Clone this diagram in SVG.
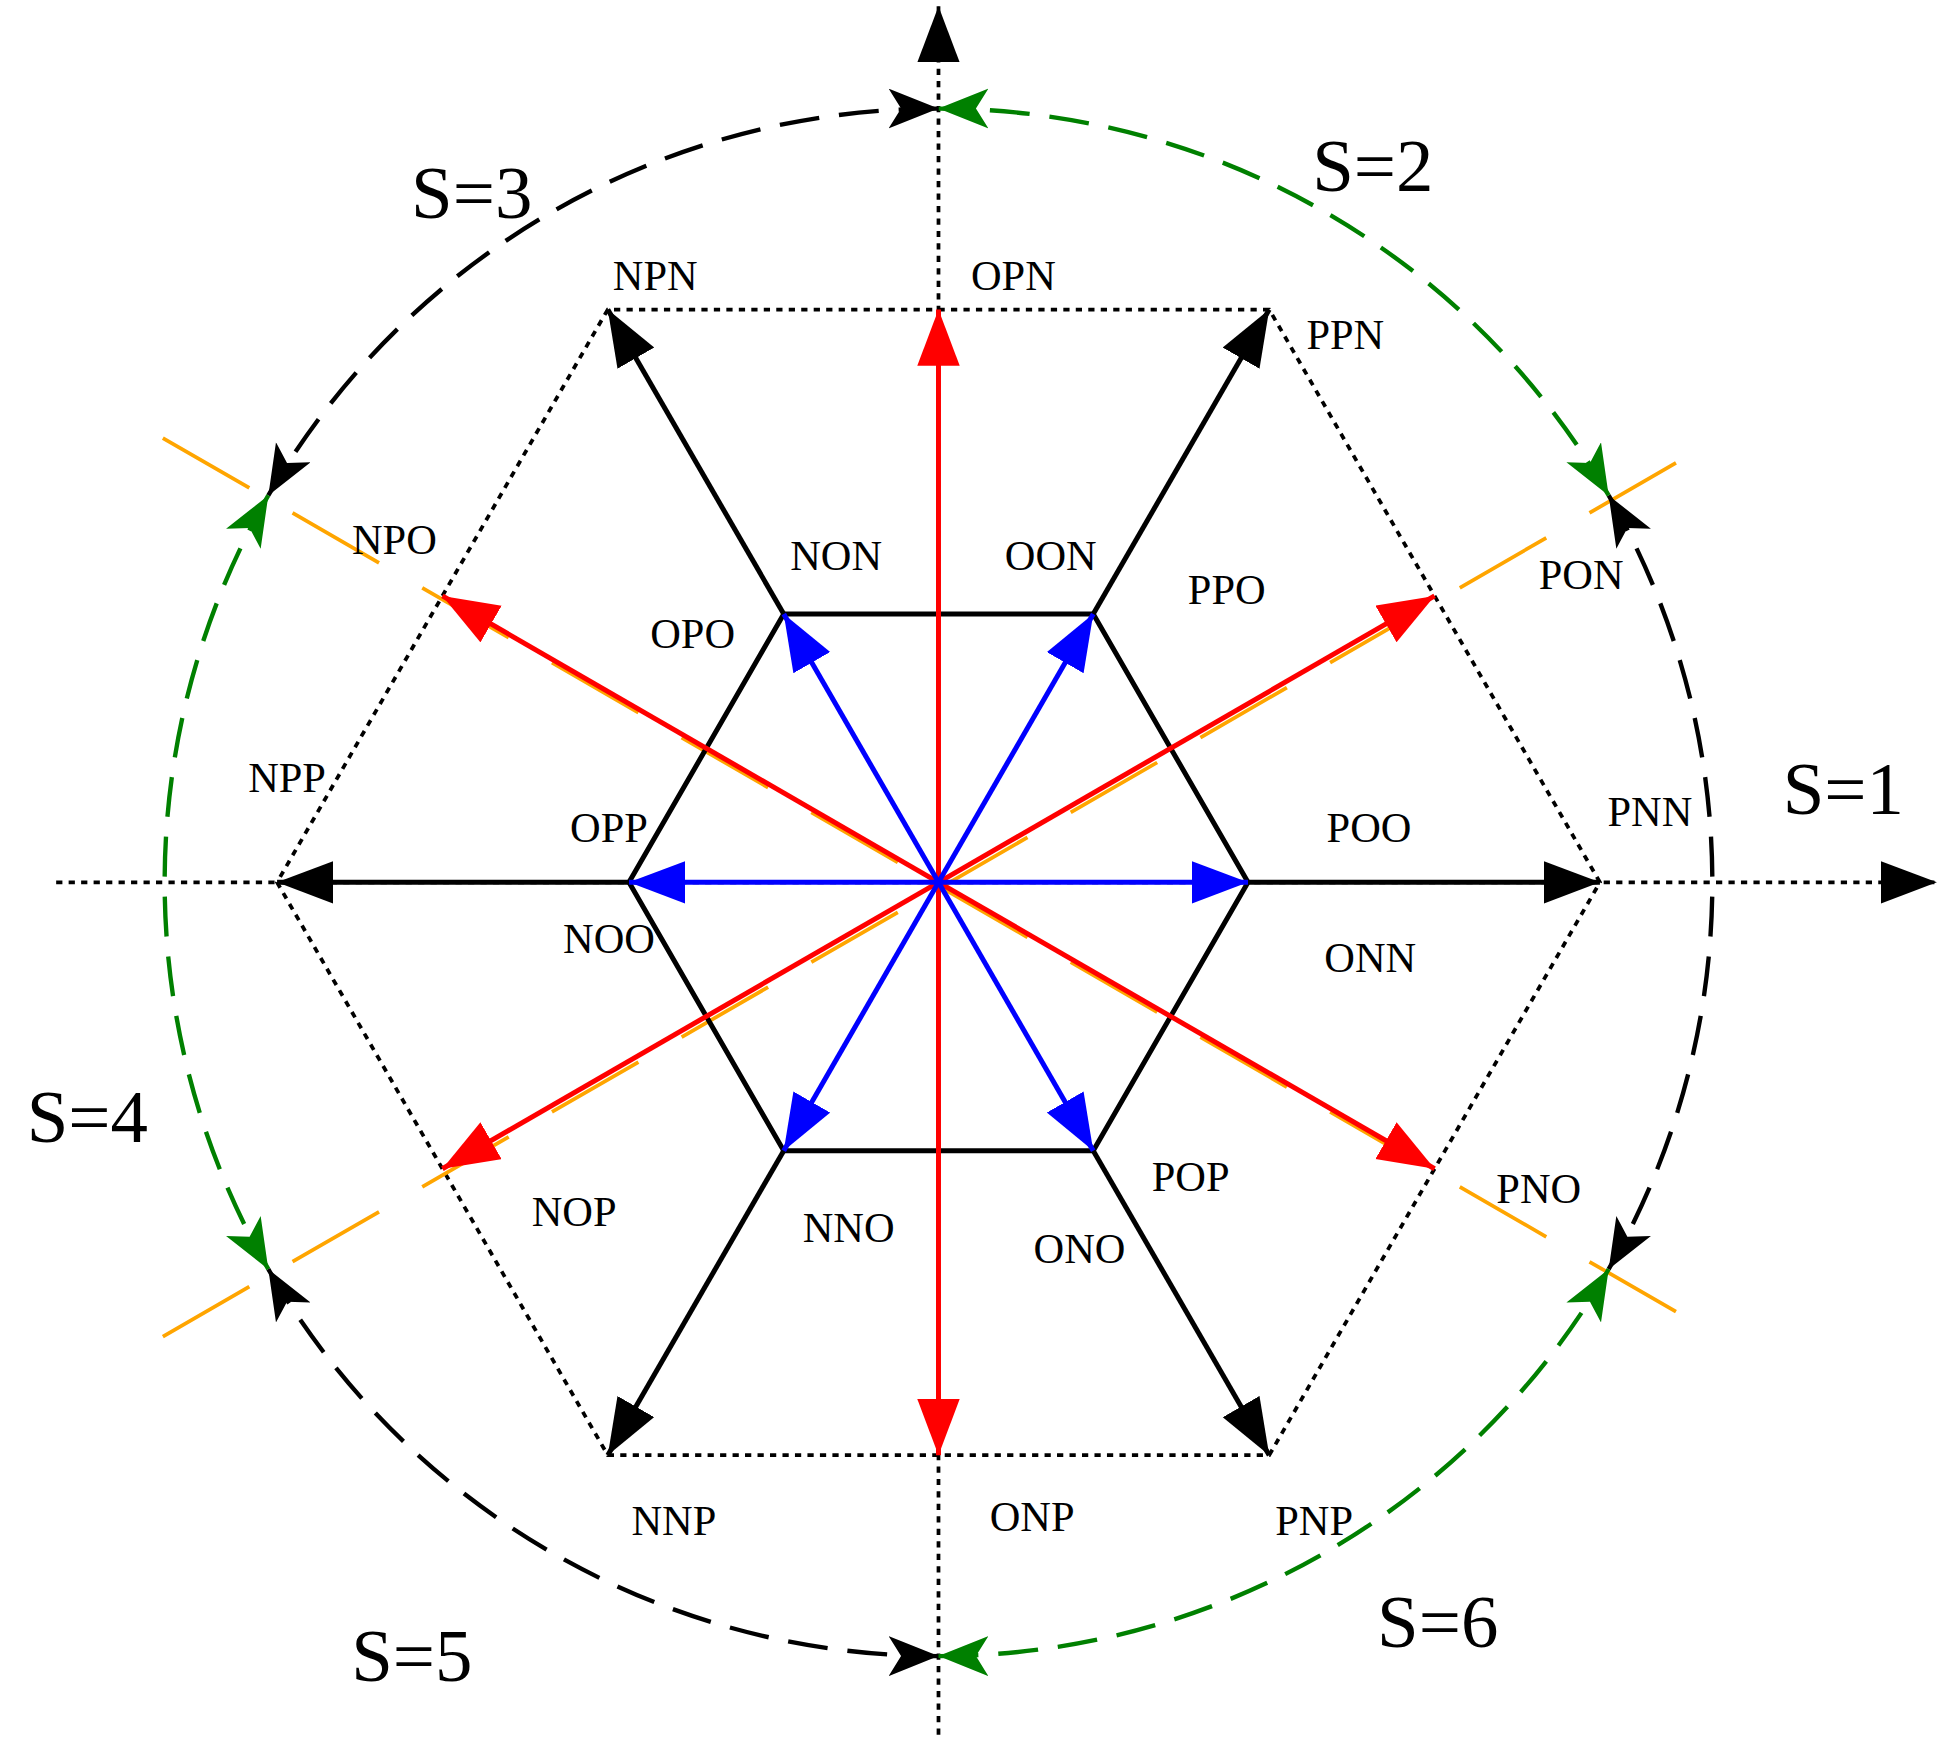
<svg xmlns="http://www.w3.org/2000/svg" width="1947" height="1755" viewBox="0 0 1947 1755">
<defs>
<style>
text{font-family:"Liberation Serif","Times New Roman",serif;fill:#000;text-anchor:middle}
.s{font-size:34px}.b{font-size:60px}
.dot{fill:none;stroke:#000;stroke-width:3;stroke-dasharray:5 5}
.blk{stroke:#000;stroke-width:4;fill:none}
.red{stroke:#f00;stroke-width:4}
.blu{stroke:#00f;stroke-width:4}
.org{stroke:#ffa500;stroke-width:3;stroke-dasharray:80 40;fill:none}
.arcK{fill:none;stroke:#000;stroke-width:3.5;stroke-dasharray:32 16}
.arcG{fill:none;stroke:#008000;stroke-width:3.5;stroke-dasharray:32 16}
</style>
<marker id="mK" markerUnits="userSpaceOnUse" markerWidth="50" markerHeight="40" refX="45" refY="17" orient="auto-start-reverse"><path d="M0,0L45,17L0,34z" fill="#000"/></marker>
<marker id="mR" markerUnits="userSpaceOnUse" markerWidth="50" markerHeight="40" refX="45" refY="17" orient="auto"><path d="M0,0L45,17L0,34z" fill="#f00"/></marker>
<marker id="mB" markerUnits="userSpaceOnUse" markerWidth="50" markerHeight="40" refX="45" refY="17" orient="auto"><path d="M0,0L45,17L0,34z" fill="#00f"/></marker>
<marker id="cK" markerUnits="userSpaceOnUse" markerWidth="50" markerHeight="40" refX="40" refY="16" orient="auto-start-reverse"><path d="M0,0L40,16L0,32L10,16z" fill="#000"/></marker>
<marker id="cG" markerUnits="userSpaceOnUse" markerWidth="50" markerHeight="40" refX="40" refY="16" orient="auto-start-reverse"><path d="M0,0L40,16L0,32L10,16z" fill="#008000"/></marker>
</defs>
<g transform="scale(1.248)">
<g id="connectors">
<line class="dot" x1="45" y1="707" x2="1552" y2="707" marker-end="url(#mK)"/>
<line class="dot" x1="752" y1="1390" x2="752" y2="5" marker-end="url(#mK)"/>
<polygon class="dot" points="1282,707 1017,248 487,248 222,707 487,1166 1017,1166"/>
<line class="org" x1="128.5" y1="1067" x2="1375.5" y2="347" transform="translate(2,4)"/>
<line class="org" x1="128.5" y1="347" x2="1375.5" y2="1067" transform="translate(2,4)"/>
<path class="arcK" d="M1289,397A620,620 0 0 1 1289,1017" marker-start="url(#cK)" marker-end="url(#cK)"/>
<path class="arcG" d="M1289,397A620,620 0 0 0 752,87" marker-start="url(#cG)" marker-end="url(#cG)"/>
<path class="arcK" d="M752,87A620,620 0 0 0 215,397" marker-start="url(#cK)" marker-end="url(#cK)"/>
<path class="arcG" d="M215,397A620,620 0 0 0 215,1017" marker-start="url(#cG)" marker-end="url(#cG)"/>
<path class="arcK" d="M215,1017A620,620 0 0 0 752,1327" marker-start="url(#cK)" marker-end="url(#cK)"/>
<path class="arcG" d="M752,1327A620,620 0 0 0 1289,1017" marker-start="url(#cG)" marker-end="url(#cG)"/>
<polygon class="blk" points="1000,707 876,492 628,492 504,707 628,922 876,922"/>
<g class="blk">
<line x1="1000" y1="707" x2="1282" y2="707" marker-end="url(#mK)"/>
<line x1="876" y1="492" x2="1017" y2="248" marker-end="url(#mK)"/>
<line x1="628" y1="492" x2="487" y2="248" marker-end="url(#mK)"/>
<line x1="504" y1="707" x2="222" y2="707" marker-end="url(#mK)"/>
<line x1="628" y1="922" x2="487" y2="1166" marker-end="url(#mK)"/>
<line x1="876" y1="922" x2="1017" y2="1166" marker-end="url(#mK)"/>
</g>
<g class="red">
<line x1="752" y1="707" x2="1149.5" y2="477.5" marker-end="url(#mR)"/>
<line x1="752" y1="707" x2="752" y2="248" marker-end="url(#mR)"/>
<line x1="752" y1="707" x2="354.5" y2="477.5" marker-end="url(#mR)"/>
<line x1="752" y1="707" x2="354.5" y2="936.5" marker-end="url(#mR)"/>
<line x1="752" y1="707" x2="752" y2="1166" marker-end="url(#mR)"/>
<line x1="752" y1="707" x2="1149.5" y2="936.5" marker-end="url(#mR)"/>
</g>
<g class="blu">
<line x1="752" y1="707" x2="1000" y2="707" marker-end="url(#mB)"/>
<line x1="752" y1="707" x2="876" y2="492" marker-end="url(#mB)"/>
<line x1="752" y1="707" x2="628" y2="492" marker-end="url(#mB)"/>
<line x1="752" y1="707" x2="504" y2="707" marker-end="url(#mB)"/>
<line x1="752" y1="707" x2="628" y2="922" marker-end="url(#mB)"/>
<line x1="752" y1="707" x2="876" y2="922" marker-end="url(#mB)"/>
</g>
</g>
<g id="labels">
<text class="s" x="525" y="232">NPN</text>
<text class="s" x="812" y="232">OPN</text>
<text class="s" x="1078" y="280">PPN</text>
<text class="s" x="670" y="457">NON</text>
<text class="s" x="842" y="457">OON</text>
<text class="s" x="983" y="484">PPO</text>
<text class="s" x="1267" y="472">PON</text>
<text class="s" x="316" y="444">NPO</text>
<text class="s" x="555" y="519">OPO</text>
<text class="s" x="230" y="635">NPP</text>
<text class="s" x="488" y="675">OPP</text>
<text class="s" x="1097" y="675">POO</text>
<text class="s" x="1322" y="662">PNN</text>
<text class="s" x="488" y="764">NOO</text>
<text class="s" x="1098" y="779">ONN</text>
<text class="s" x="460" y="982">NOP</text>
<text class="s" x="680" y="995">NNO</text>
<text class="s" x="865" y="1012">ONO</text>
<text class="s" x="954" y="954">POP</text>
<text class="s" x="1233" y="964">PNO</text>
<text class="s" x="540" y="1230">NNP</text>
<text class="s" x="827" y="1227">ONP</text>
<text class="s" x="1053" y="1230">PNP</text>
<text class="b" x="1477" y="652">S=1</text>
<text class="b" x="1100" y="153">S=2</text>
<text class="b" x="378" y="175">S=3</text>
<text class="b" x="70" y="915">S=4</text>
<text class="b" x="330" y="1347">S=5</text>
<text class="b" x="1152" y="1320">S=6</text>
</g>
</g>
</svg>
